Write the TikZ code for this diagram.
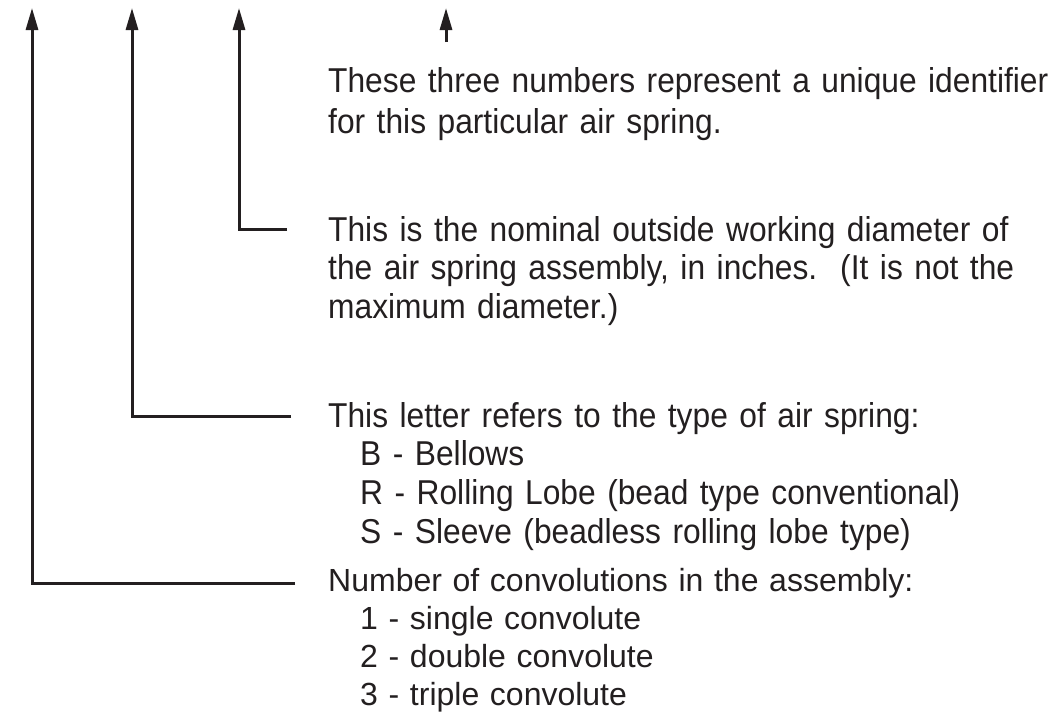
\documentclass[tikz,border=0pt]{standalone}
\usepackage{fontspec}
\setmainfont{Liberation Sans}
\newfontfamily\narrowsans[FakeStretch=0.92]{Liberation Sans}
\usetikzlibrary{arrows.meta,calc}
\definecolor{ink}{RGB}{35,31,32}
\begin{document}
\begin{tikzpicture}[x=1pt,y=-1pt,
  lead/.style={line width=3pt,draw=ink,-{Triangle[length=22pt,width=12pt]}},
  note/.style={anchor=base west,inner sep=0pt,text width=740pt,align=left,text=ink,
    font=\fontsize{32}{38}\selectfont\frenchspacing},
  narrow/.style={note,font=\narrowsans\fontsize{34.5}{38.7}\selectfont\frenchspacing}]
\useasboundingbox (0,0) rectangle (1048,712);
% tips of the four arrows
\coordinate (tipConv) at (32,8);
\coordinate (tipType) at (132,8);
\coordinate (tipDiam) at (239,8);
\coordinate (tipId) at (446,8);
% the notes
\node[narrow,font=\narrowsans\fontsize{34.5}{41}\selectfont] (ident) at (328,92) {These three numbers represent a unique identifier\\for this particular air spring.};
\node[narrow] (diam) at (328,241) {This is the nominal outside working diameter of\\the air spring assembly, in inches.~ (It is not the\\maximum diameter.)};
\node[narrow] (type) at (328,427) {This letter refers to the type of air spring:\\
  \hspace*{32pt}B - Bellows\\
  \hspace*{32pt}R - Rolling Lobe (bead type conventional)\\
  \hspace*{32pt}S - Sleeve (beadless rolling lobe type)};
\node[note] (conv) at (328,591) {Number of convolutions in the assembly:\\
  \hspace*{32pt}1 - single convolute\\
  \hspace*{32pt}2 - double convolute\\
  \hspace*{32pt}3 - triple convolute};
% leaders
\draw[lead] ($(conv.base west)+(-33,-8)$) -| (tipConv);
\draw[lead] ($(type.base west)+(-37,-11)$) -| (tipType);
\draw[lead] ($(diam.base west)+(-41,-12)$) -| (tipDiam);
\draw[lead] ($(tipId |- ident.base west)+(0,-50)$) -- (tipId);
\end{tikzpicture}
\end{document}
